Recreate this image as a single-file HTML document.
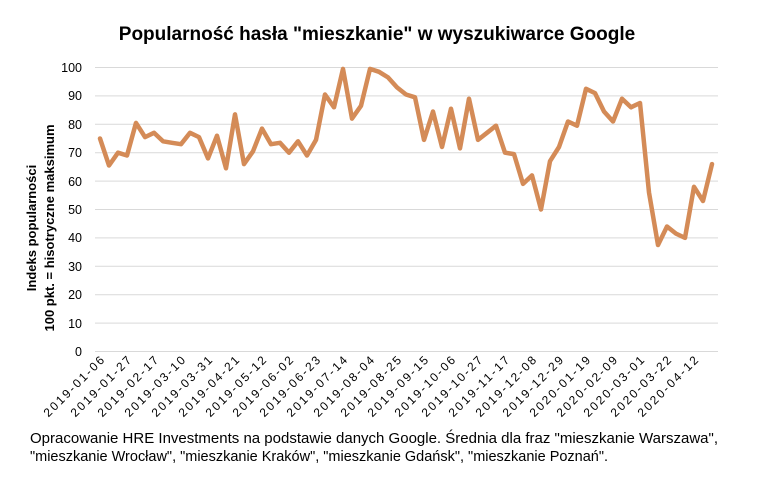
<!DOCTYPE html>
<html><head><meta charset="utf-8"><style>
body{margin:0;background:#fff;}
svg{display:block;font-family:"Liberation Sans",sans-serif;}
</style></head><body>
<svg width="757" height="479" viewBox="0 0 757 479">
<rect width="757" height="479" fill="#fff"/>
<text x="377" y="40" text-anchor="middle" font-size="19" font-weight="bold" fill="#000">Popularność hasła "mieszkanie" w wyszukiwarce Google</text>
<g stroke="#d9d9d9" stroke-width="1">
<line x1="95" x2="718" y1="67.5" y2="67.5"/><line x1="95" x2="718" y1="95.9" y2="95.9"/><line x1="95" x2="718" y1="124.3" y2="124.3"/><line x1="95" x2="718" y1="152.7" y2="152.7"/><line x1="95" x2="718" y1="181.1" y2="181.1"/><line x1="95" x2="718" y1="209.5" y2="209.5"/><line x1="95" x2="718" y1="237.9" y2="237.9"/><line x1="95" x2="718" y1="266.3" y2="266.3"/><line x1="95" x2="718" y1="294.7" y2="294.7"/><line x1="95" x2="718" y1="323.1" y2="323.1"/><line x1="95" x2="718" y1="351.5" y2="351.5"/>
</g>
<g font-size="12.5" text-anchor="end" fill="#000">
<text x="82" y="72">100</text><text x="82" y="100">90</text><text x="82" y="129">80</text><text x="82" y="157">70</text><text x="82" y="186">60</text><text x="82" y="214">50</text><text x="82" y="242">40</text><text x="82" y="271">30</text><text x="82" y="299">20</text><text x="82" y="328">10</text><text x="82" y="356">0</text>
</g>
<g font-size="13" font-weight="bold" text-anchor="middle" fill="#000">
<text transform="translate(36,228) rotate(-90)">Indeks popularności</text>
<text transform="translate(54,228) rotate(-90)">100 pkt. = hisotryczne maksimum</text>
</g>
<polyline fill="none" stroke="#d48b57" stroke-width="4.5" stroke-linejoin="round" stroke-linecap="round" id="ln" points=""/>
<g id="xl" font-size="12" text-anchor="end" fill="#000"></g>
<text x="30" y="443" font-size="15" fill="#000" textLength="688" lengthAdjust="spacingAndGlyphs">Opracowanie HRE Investments na podstawie danych Google. Średnia dla fraz "mieszkanie Warszawa",</text>
<text x="30" y="461" font-size="15" fill="#000" textLength="578" lengthAdjust="spacingAndGlyphs">"mieszkanie Wrocław", "mieszkanie Kraków", "mieszkanie Gdańsk", "mieszkanie Poznań".</text>
</svg>
<script>
var v=[75,65.5,70,69,80.5,75.5,77,74,73.5,73,77,75.5,68,76,64.5,83.5,66,70.5,78.5,73,73.5,70,74,69,74.5,90.5,86,99.5,82,86.5,99.5,98.5,96.5,93,90.5,89.5,74.5,84.5,72,85.5,71.5,89,74.5,77,79.5,70,69.5,59,62,50,67,72,81,79.5,92.5,91,84.5,81,89,86,87.5,56,37.5,44,41.5,40,58,53,66];
var p=v.map(function(y,i){return (100+i*9)+","+(351.5-y*2.84).toFixed(1)}).join(" ");
document.getElementById("ln").setAttribute("points",p);
var labels=["2019-01-06","2019-01-27","2019-02-17","2019-03-10","2019-03-31","2019-04-21","2019-05-12","2019-06-02","2019-06-23","2019-07-14","2019-08-04","2019-08-25","2019-09-15","2019-10-06","2019-10-27","2019-11-17","2019-12-08","2019-12-29","2020-01-19","2020-02-09","2020-03-01","2020-03-22","2020-04-12"];
var g=document.getElementById("xl"),s="";
labels.forEach(function(t,k){var x=100+k*27+5;s+='<text transform="translate('+x+',361) rotate(-45)" textLength="80" lengthAdjust="spacing">'+t+'</text>';});
g.innerHTML=s;
</script>
</body></html>
